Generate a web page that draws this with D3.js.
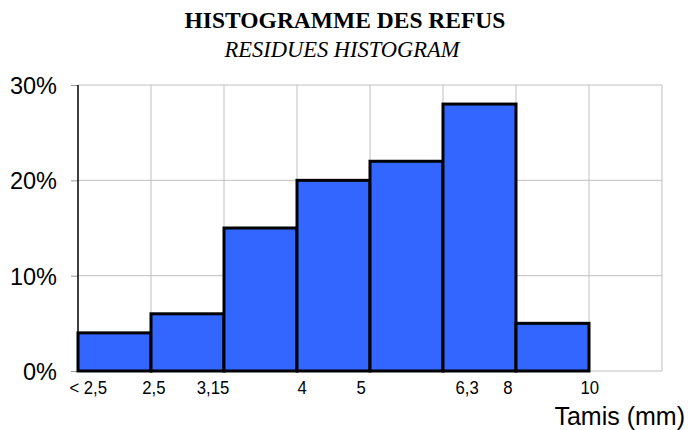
<!DOCTYPE html>
<html><head><meta charset="utf-8">
<script src="https://cdn.jsdelivr.net/npm/d3@7"></script>
<style>body{margin:0;background:#fff}</style>
</head><body><svg id="c" width="688" height="430"></svg>
<script>
const categories = ["< 2,5","2,5","3,15","4","5","6,3","8","10"];
const values = [0.04,0.06,0.15,0.20,0.22,0.28,0.05,null];
const yTicks = [0,0.1,0.2,0.3];
// label anchor positions in slot units (layout)
const labelSlot = [0.14,1.04,1.85,3.07,3.88,5.33,5.89,7.01];

const svg = d3.select("#c");
const L=78,R=662,T=85,B=371;
const x = d3.scaleLinear().domain([0,categories.length]).range([L,R]);
const y = d3.scaleLinear().domain([0,0.3]).range([B,T]);

// grid
svg.append("g").selectAll("line").data(yTicks).join("line")
  .attr("x1",L).attr("x2",R).attr("y1",d=>y(d)).attr("y2",d=>y(d))
  .attr("stroke","#c0c0c0").attr("stroke-width",1);
svg.append("g").selectAll("line").data(d3.range(1,categories.length+1)).join("line")
  .attr("x1",d=>x(d)).attr("x2",d=>x(d)).attr("y1",T).attr("y2",B)
  .attr("stroke","#c0c0c0").attr("stroke-width",1);

// y axis
const ya = svg.append("g").attr("transform",`translate(${L},0)`)
  .call(d3.axisLeft(y).tickValues(yTicks).tickFormat(d3.format(".0%")).tickSize(7).tickPadding(14));
ya.select(".domain").remove();
ya.selectAll(".tick line").attr("stroke","#999");
ya.selectAll(".tick text").attr("font-family","Liberation Sans, Arial, sans-serif").attr("font-size",23.5).attr("fill","#000").attr("dy","0.36em");
svg.append("line").attr("x1",L).attr("x2",L).attr("y1",T).attr("y2",B).attr("stroke","#000").attr("stroke-width",1.5);

// bars
const data = categories.map((c,i)=>({c,i,v:values[i]})).filter(d=>d.v!=null);
svg.append("g").selectAll("rect").data(data).join("rect")
  .attr("x",d=>x(d.i)).attr("width",d=>x(d.i+1)-x(d.i))
  .attr("y",d=>y(d.v)).attr("height",d=>y(0)-y(d.v))
  .attr("fill","#3366ff").attr("stroke","#000").attr("stroke-width",3);

// x labels
svg.append("g").selectAll("text").data(categories).join("text")
  .attr("transform",(d,i)=>`translate(${x(labelSlot[i])},394) scale(0.88,1)`)
  .attr("text-anchor","middle")
  .attr("font-family","Liberation Sans, Arial, sans-serif")
  .attr("font-size",19).attr("fill","#000").text(d=>d);

// titles
svg.append("text").attr("x",345).attr("y",28).attr("text-anchor","middle")
  .attr("font-family","Liberation Serif, Times New Roman, serif").attr("font-weight","bold")
  .attr("font-size",23.5).text("HISTOGRAMME DES REFUS");
svg.append("text").attr("x",342).attr("y",57).attr("text-anchor","middle")
  .attr("font-family","Liberation Serif, Times New Roman, serif").attr("font-style","italic")
  .attr("font-size",22.5).text("RESIDUES HISTOGRAM");
svg.append("text").attr("x",685).attr("y",425).attr("text-anchor","end")
  .attr("font-family","Liberation Sans, Arial, sans-serif").attr("font-size",25).text("Tamis (mm)");
</script></body></html>
